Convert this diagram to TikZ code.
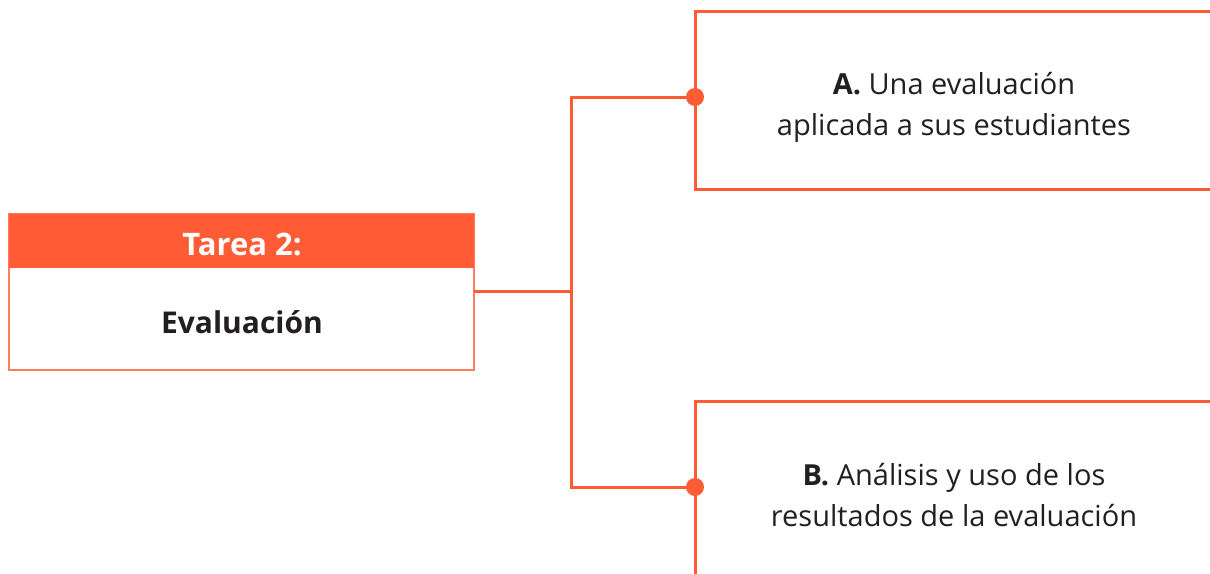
\documentclass[tikz,border=0pt]{standalone}
\usepackage{fontspec}
\setmainfont{Open Sans}
\begin{document}
\begin{tikzpicture}[x=1pt,y=-1pt,
  every node/.style={inner sep=0pt, outer sep=0pt},
  link/.style={draw=accent, line width=3pt},
  box/.style={draw=accent, line width=3pt, rectangle},
  dot/.style={circle, fill=accent, minimum size=18pt},
  bodytext/.style={text=ink, font=\fontsize{29}{41}\selectfont, align=center},
  headtext/.style={text=white, font=\fontsize{31}{34}\selectfont\bfseries},
  titletext/.style={text=ink, font=\fontsize{30}{34}\selectfont\bfseries}]
\definecolor{accent}{RGB}{255,92,53}
\definecolor{ink}{RGB}{35,31,32}
\useasboundingbox (0,0) rectangle (1210,573);
\fill[white] (0,0) rectangle (1210,573);
% left box
\node (T) [draw=accent!80, line width=1.2pt, minimum width=465pt, minimum height=156pt, anchor=north west] at (9,214) {};
\node (H) [fill=accent, minimum width=465pt, minimum height=54pt, anchor=north west] at (9,214) {};
\node (Ht) [headtext] at (242,244) {Tarea 2:};
\node (Tt) [titletext] at (242,322) {Evaluación};
% right boxes
\node (A) [box, minimum width=700pt, minimum height=178pt, anchor=north west] at (695,11) {};
\node (At) [bodytext] at (954,107) {\textbf{A.} Una evaluación\\aplicada a sus estudiantes};
\node (B) [box, minimum width=700pt, minimum height=260pt, anchor=north west] at (695,401) {};
\node (Bt) [bodytext] at (954,495) {\textbf{B.} Análisis y uso de los\\resultados de la evaluación};
% connectors
\coordinate (J) at (571,291);
\coordinate (Ja) at (571,97);
\coordinate (Jb) at (571,487);
\coordinate (Da) at (695,97);
\coordinate (Db) at (695,487);
\draw[link] (T.east |- J) -- (J);
\draw[link, line join=miter] (Da) -- (Ja) -- (Jb) -- (Db);
\node (dA) [dot] at (Da) {};
\node (dB) [dot] at (Db) {};
\end{tikzpicture}
\end{document}
